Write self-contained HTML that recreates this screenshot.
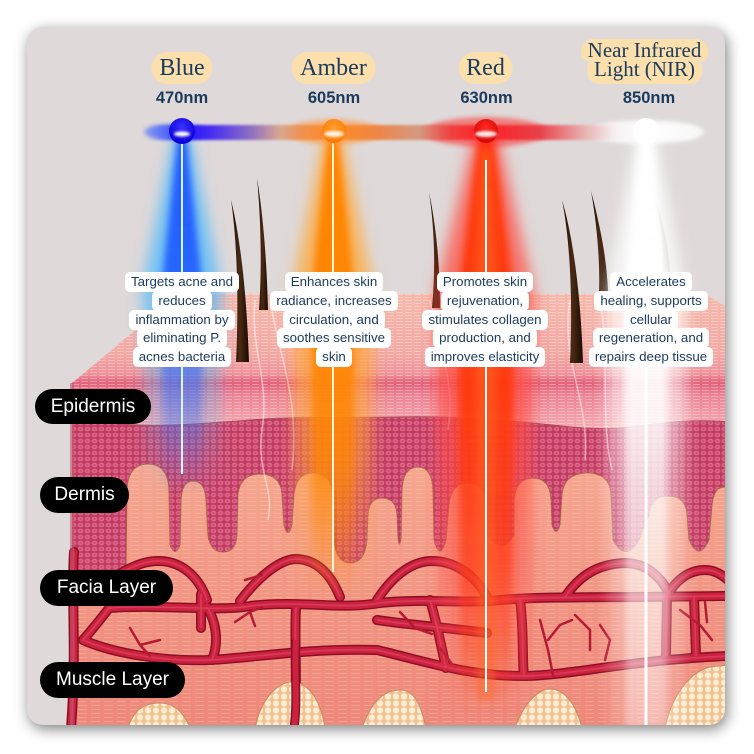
<!DOCTYPE html>
<html><head><meta charset="utf-8">
<style>
html,body{margin:0;padding:0;background:#fff;}
body{width:754px;height:754px;position:relative;overflow:hidden;font-family:"Liberation Sans",Arial,sans-serif;}
#card{position:absolute;left:27px;top:27px;width:698px;height:698px;border-radius:16px;background:#dfd9d9;box-shadow:2px 4px 14px rgba(0,0,0,.5);overflow:hidden;}
#card svg{position:absolute;left:0;top:0;}
.pill{position:absolute;transform:translateX(-50%);font-family:"Liberation Serif",serif;color:#1b3a5c;text-align:center;white-space:nowrap;}
.pill span{background:#fbe0ad;display:inline-block;}
.pill span.b{display:block;width:fit-content;margin:0 auto;}
.wl{position:absolute;transform:translateX(-50%);font-weight:bold;font-size:16.5px;line-height:20px;color:#1b3a5c;white-space:nowrap;top:88px;}
.desc{position:absolute;top:272px;width:200px;transform:translateX(-50%);text-align:center;font-size:13.3px;color:#1b3a5c;}
.desc div{height:18.75px;white-space:nowrap;}
.desc span{display:inline-block;background:#fff;height:20px;line-height:20px;padding:0 6px;border-radius:5px;}
.lay{position:absolute;background:#000;color:#fff;font-size:19px;border-radius:18px;text-align:center;white-space:nowrap;}
</style></head>
<body>
<div id="card">
<svg width="698" height="698" viewBox="27 27 698 698" xmlns="http://www.w3.org/2000/svg">
<defs>
 <linearGradient id="skinTop" x1="0" y1="294" x2="0" y2="428" gradientUnits="userSpaceOnUse">
  <stop offset="0" stop-color="#f6b9ab"/>
  <stop offset=".45" stop-color="#f3a8a4"/>
  <stop offset=".6" stop-color="#ee9098"/>
  <stop offset=".66" stop-color="#e25f78"/>
  <stop offset=".75" stop-color="#ec8294"/>
  <stop offset="1" stop-color="#f5aab0"/>
 </linearGradient>
 <linearGradient id="lowerd" x1="0" y1="460" x2="0" y2="725" gradientUnits="userSpaceOnUse">
  <stop offset="0" stop-color="#f6a890"/><stop offset=".5" stop-color="#f29684"/><stop offset="1" stop-color="#ee887a"/>
 </linearGradient>
 <pattern id="hl" width="9" height="3" patternUnits="userSpaceOnUse"><rect x="0" y="0" width="7" height="1" fill="#fff" opacity=".3"/></pattern>
 <pattern id="hl2" width="13" height="4" patternUnits="userSpaceOnUse"><rect x="0" y="1" width="9" height="1" fill="#ffd8c8" opacity=".28"/></pattern>
 <pattern id="cells" width="7" height="6" patternUnits="userSpaceOnUse"><rect width="7" height="6" fill="#bf3c60"/><rect x=".7" y=".7" width="5.6" height="4.6" rx="2.2" fill="#dc6488"/><circle cx="3.5" cy="3" r="1" fill="#c84a70"/></pattern>
 <pattern id="fat" width="8" height="7" patternUnits="userSpaceOnUse"><rect width="8" height="7" fill="#efc092"/><circle cx="4" cy="3.5" r="3.1" fill="#fdecd0"/></pattern>
 <linearGradient id="hair" x1="0" x2="1"><stop offset="0" stop-color="#1a0c04"/><stop offset=".5" stop-color="#4a2a14"/><stop offset="1" stop-color="#1a0a02"/></linearGradient>

 <filter id="b8" x="-40%" y="-5%" width="180%" height="110%"><feGaussianBlur stdDeviation="7"/></filter>
 <filter id="b4" x="-40%" y="-5%" width="180%" height="110%"><feGaussianBlur stdDeviation="3.5"/></filter>
 <filter id="b2" x="-60%" y="-60%" width="220%" height="220%"><feGaussianBlur stdDeviation="2"/></filter>
 <filter id="b1" x="-10%" y="-60%" width="120%" height="220%"><feGaussianBlur stdDeviation="1.3"/></filter>

 <!-- vertical fade gradients for beams -->
 <linearGradient id="vBo" gradientUnits="userSpaceOnUse" x1="0" y1="136" x2="0" y2="492"><stop offset="0" stop-color="#45b6ff" stop-opacity=".75"/><stop offset=".42" stop-color="#45b6ff" stop-opacity=".7"/><stop offset=".7" stop-color="#45b6ff" stop-opacity=".35"/><stop offset="1" stop-color="#45b6ff" stop-opacity="0"/></linearGradient>
 <linearGradient id="vBc" gradientUnits="userSpaceOnUse" x1="0" y1="136" x2="0" y2="492"><stop offset="0" stop-color="#1e55ff" stop-opacity=".95"/><stop offset=".42" stop-color="#1e5cff" stop-opacity=".9"/><stop offset=".7" stop-color="#2a60ff" stop-opacity=".45"/><stop offset="1" stop-color="#2a60ff" stop-opacity="0"/></linearGradient>
 <linearGradient id="vAo" gradientUnits="userSpaceOnUse" x1="0" y1="136" x2="0" y2="595"><stop offset="0" stop-color="#ffa83a" stop-opacity=".8"/><stop offset=".4" stop-color="#ffa83a" stop-opacity=".75"/><stop offset=".7" stop-color="#ffa030" stop-opacity=".55"/><stop offset="1" stop-color="#ffa030" stop-opacity="0"/></linearGradient>
 <linearGradient id="vAc" gradientUnits="userSpaceOnUse" x1="0" y1="136" x2="0" y2="595"><stop offset="0" stop-color="#ff8400"/><stop offset=".4" stop-color="#ff8400" stop-opacity=".95"/><stop offset=".7" stop-color="#ff8400" stop-opacity=".75"/><stop offset="1" stop-color="#ff8400" stop-opacity="0"/></linearGradient>
 <linearGradient id="vRo" gradientUnits="userSpaceOnUse" x1="0" y1="136" x2="0" y2="715"><stop offset="0" stop-color="#ff4a40" stop-opacity=".75"/><stop offset=".45" stop-color="#ff4a40" stop-opacity=".7"/><stop offset=".75" stop-color="#ff4a40" stop-opacity=".45"/><stop offset="1" stop-color="#ff4a40" stop-opacity="0"/></linearGradient>
 <linearGradient id="vRc" gradientUnits="userSpaceOnUse" x1="0" y1="136" x2="0" y2="715"><stop offset="0" stop-color="#ff3a10"/><stop offset=".45" stop-color="#ff3a10" stop-opacity=".95"/><stop offset=".75" stop-color="#ff3a10" stop-opacity=".65"/><stop offset="1" stop-color="#ff3a10" stop-opacity="0"/></linearGradient>
 <linearGradient id="vNo" gradientUnits="userSpaceOnUse" x1="0" y1="136" x2="0" y2="730"><stop offset="0" stop-color="#fff" stop-opacity=".75"/><stop offset=".3" stop-color="#fff" stop-opacity=".7"/><stop offset=".6" stop-color="#fff" stop-opacity=".4"/><stop offset="1" stop-color="#fff" stop-opacity=".15"/></linearGradient>
 <linearGradient id="vNc" gradientUnits="userSpaceOnUse" x1="0" y1="136" x2="0" y2="730"><stop offset="0" stop-color="#fff"/><stop offset=".3" stop-color="#fff" stop-opacity=".95"/><stop offset=".6" stop-color="#fff" stop-opacity=".6"/><stop offset="1" stop-color="#fff" stop-opacity=".3"/></linearGradient>

 <linearGradient id="bar" x1="147" y1="0" x2="700" y2="0" gradientUnits="userSpaceOnUse">
  <stop offset="0" stop-color="#3040ff" stop-opacity="0"/>
  <stop offset=".04" stop-color="#3040ff" stop-opacity=".6"/>
  <stop offset=".063" stop-color="#1a10ff"/>
  <stop offset=".12" stop-color="#4a30f0"/>
  <stop offset=".19" stop-color="#9070c0"/>
  <stop offset=".24" stop-color="#d8a890"/>
  <stop offset=".28" stop-color="#f09050"/>
  <stop offset=".337" stop-color="#ff8a20"/>
  <stop offset=".42" stop-color="#ec8648"/>
  <stop offset=".49" stop-color="#d49a80"/>
  <stop offset=".55" stop-color="#f04040"/>
  <stop offset=".611" stop-color="#ff2020"/>
  <stop offset=".71" stop-color="#e8404a"/>
  <stop offset=".79" stop-color="#e8b0b0"/>
  <stop offset=".85" stop-color="#f6f2f2"/>
  <stop offset=".9" stop-color="#ffffff"/>
  <stop offset="1" stop-color="#ffffff" stop-opacity="0"/>
 </linearGradient>
 <radialGradient id="oB" cx=".5" cy=".35" r=".6"><stop offset="0" stop-color="#3a30ff"/><stop offset="1" stop-color="#0c00d8"/></radialGradient>
 <radialGradient id="oA" cx=".5" cy=".35" r=".6"><stop offset="0" stop-color="#ffa030"/><stop offset="1" stop-color="#ff7a00"/></radialGradient>
 <radialGradient id="oR" cx=".5" cy=".35" r=".6"><stop offset="0" stop-color="#ff2a20"/><stop offset="1" stop-color="#d80808"/></radialGradient>

 <g id="ves">
  <path d="M90 600 C110 575,140 560,160 561 C185 562,200 580,207 600"/>
  <path d="M201 594 L201 628"/>
  <path d="M110 608 C160 604,220 612,250 606 C300 600,340 610,380 603 C420 598,470 604,500 600 C540 596,600 598,726 596"/>
  <path d="M240 601 C260 575,280 560,295 559 C315 559,330 572,340 597"/>
  <path d="M377 600 C395 572,415 561,432 561 C455 561,475 575,487 597"/>
  <path d="M565 597 C580 575,598 564,625 563 C645 563,660 575,670 595"/>
  <path d="M667 595 C678 578,690 570,705 570 C715 570,722 575,728 580"/>
  <path d="M83 640 C110 652,160 662,210 660 C260 657,310 648,377 650 C420 660,470 677,527 676 C580 674,630 660,728 656"/>
  <path d="M110 607 C100 620,90 632,83 640"/>
  <path d="M296 608 C294 640,298 680,294 728"/>
  <path d="M520 600 C524 630,522 660,524 676"/>
  <path d="M667 595 L666 656"/>
  <path d="M694 597 L696 656"/>
  <path d="M377 620 C410 625,450 628,487 633"/>
  <path d="M74 552 C71 600,77 650,71 728"/>
  <path d="M207 607 C215 620,220 640,212 660"/>
  <path d="M430 600 C436 620,440 640,446 668"/>
 </g>
 <g id="vthin">
  <path d="M130 628 L140 645 L150 656 M140 645 L160 640"/>
  <path d="M235 622 L250 612 L262 607 M250 612 L255 626"/>
  <path d="M540 620 L548 650 L553 675 M548 640 L560 625 L572 620 M600 625 L610 640 L605 660"/>
  <path d="M400 612 L415 628 L432 634 M440 648 L452 664"/>
  <path d="M680 610 L700 625 L712 640 M705 602 L707 622"/>
  <path d="M245 580 L262 575 M575 615 L590 630 L590 650"/>
 </g>
</defs>

<!-- dermis cells -->
<rect x="72" y="405" width="660" height="180" fill="url(#cells)"/>
<!-- lower dermis with papillae -->
<path d="M72 575 L126 575 L127 490 Q128 464 148 464 Q168 464 169 490 L170 545 Q175 558 180 545 L181 500 Q182 481 193 481 Q205 481 206 500 L208 535 Q210 552 223 552 Q236 552 237 535 L238 495 Q240 474 260 474 Q281 474 282 495 L284 525 Q288 540 292 525 L294 495 Q296 473 313 473 Q331 473 333 495 L334 540 Q336 563 350 563 Q365 563 367 540 L368 515 Q369 498 382 498 Q396 498 397 515 L398 538 Q399.5 550 401 538 L402 490 Q403 467 418 467 Q432 467 433 490 L434 540 Q440 562 446 540 L449 505 Q451 483 468 483 Q485 483 487 505 L488 535 Q501 556 514 535 L514 500 Q516 478 533 478 Q550 478 551 500 L552 525 Q556 538 560 525 L562 495 Q564 473 587 473 Q610 473 611 495 L613 540 Q626 563 639 540 L649 515 Q651 496 668 496 Q686 496 687 515 L689 540 Q699 562 709 540 L712 505 Q714 487 724 487 L730 487 L730 760 L72 760 Z" fill="url(#lowerd)" stroke="#a8624a" stroke-width=".9"/>
<path d="M72 575 L126 575 L127 490 Q128 464 148 464 Q168 464 169 490 L170 545 Q175 558 180 545 L181 500 Q182 481 193 481 Q205 481 206 500 L208 535 Q210 552 223 552 Q236 552 237 535 L238 495 Q240 474 260 474 Q281 474 282 495 L284 525 Q288 540 292 525 L294 495 Q296 473 313 473 Q331 473 333 495 L334 540 Q336 563 350 563 Q365 563 367 540 L368 515 Q369 498 382 498 Q396 498 397 515 L398 538 Q399.5 550 401 538 L402 490 Q403 467 418 467 Q432 467 433 490 L434 540 Q440 562 446 540 L449 505 Q451 483 468 483 Q485 483 487 505 L488 535 Q501 556 514 535 L514 500 Q516 478 533 478 Q550 478 551 500 L552 525 Q556 538 560 525 L562 495 Q564 473 587 473 Q610 473 611 495 L613 540 Q626 563 639 540 L649 515 Q651 496 668 496 Q686 496 687 515 L689 540 Q699 562 709 540 L712 505 Q714 487 724 487 L730 487 L730 760 L72 760 Z" fill="url(#hl2)"/>

<!-- vessels -->
<use href="#ves" fill="none" stroke="#8a0e24" stroke-width="10" stroke-linecap="round"/>
<use href="#ves" fill="none" stroke="#cc2240" stroke-width="7" stroke-linecap="round"/>
<use href="#ves" fill="none" stroke="#e8607a" stroke-width="1.5" opacity=".45"/>
<use href="#vthin" fill="none" stroke="#b51a34" stroke-width="2.5" stroke-linecap="round"/>

<!-- fat -->
<path d="M128 728 C135 705,150 703,160 703 C172 703,183 710,190 728 Z" fill="url(#fat)" stroke="#c88a60" stroke-width="1"/>
<path d="M255 728 C262 695,280 682,292 682 C305 682,320 695,325 728 Z" fill="url(#fat)" stroke="#c88a60" stroke-width="1"/>
<path d="M362 728 C372 700,385 690,400 690 C412 690,420 700,426 728 Z" fill="url(#fat)" stroke="#c88a60" stroke-width="1"/>
<path d="M515 728 C525 700,540 689,550 689 C562 689,575 700,582 728 Z" fill="url(#fat)" stroke="#c88a60" stroke-width="1"/>
<path d="M665 728 C672 695,690 672,710 667 L728 665 L728 728 Z" fill="url(#fat)" stroke="#c88a60" stroke-width="1"/>
<path d="M296 640 C294 670,298 700,294 728" fill="none" stroke="#8a0e24" stroke-width="9"/>
<path d="M296 640 C294 670,298 700,294 728" fill="none" stroke="#cc2240" stroke-width="6"/>

<!-- top face (solid) + epidermis front -->
<path d="M72 384 L179 294 L705 294 L730 309 L730 384 Z" fill="#f4afa7"/>
<path d="M72 383 L179 294 L705 294 L730 309 L730 422 C690 418,660 424,620 428 C580 430,560 425,520 422 C480 419,440 416,400 417 C340 418,300 416,250 420 C200 424,150 428,110 423 C95 421,80 421,72 422 Z" fill="url(#skinTop)"/>
<path d="M72 383 L179 294 L705 294 L730 309 L730 422 C690 418,660 424,620 428 C580 430,560 425,520 422 C480 419,440 416,400 417 C340 418,300 416,250 420 C200 424,150 428,110 423 C95 421,80 421,72 422 Z" fill="url(#hl)"/>
<path d="M72 383 L730 383" stroke="#e06a80" stroke-width="1.5" opacity=".6"/>
<path d="M72 422 C80 421,95 421,110 423 C150 428,200 424,250 420 C300 416,340 418,400 417 C440 416,480 419,520 422 C560 425,580 430,620 428 C660 424,690 418,730 422" fill="none" stroke="#a84a5a" stroke-width="1"/>
<rect x="70" y="383" width="4" height="345" fill="#c0506a" opacity=".6"/>

<!-- smoke strands -->
<g fill="none" stroke="#fff" stroke-width="1.6" opacity=".45">
 <path d="M255 300 C250 350,270 380,262 430 C256 470,275 490,268 520"/>
 <path d="M270 300 C280 360,300 400,292 470"/>
 <path d="M570 300 C560 360,590 400,585 460"/>
 <path d="M600 300 C610 360,600 420,612 470"/>
 <path d="M430 300 C440 350,455 380,448 430"/>
</g>

<!-- hairs -->
<path d="M231 200 C237 240,239 300,236 362 L249 362 C247 300,241 240,231 200 Z" fill="url(#hair)"/>
<path d="M257 178 C261 220,262 270,259 310 L268 310 C267 270,264 220,257 178 Z" fill="url(#hair)"/>
<path d="M429 192 C434 225,436 265,432 308 L440 308 C440 265,436 225,429 192 Z" fill="url(#hair)"/>
<path d="M562 200 C570 240,573 300,570 363 L583 363 C581 300,574 240,562 200 Z" fill="url(#hair)"/>
<path d="M591 191 C597 225,600 260,599 292 L608 292 C607 260,600 225,591 191 Z" fill="url(#hair)"/>
<path d="M655 198 C661 225,664 250,662 272 L670 272 C669 250,664 225,655 198 Z" fill="#8a7a70" opacity=".6"/>

<!-- beams (no masks) -->
<polygon filter="url(#b8)" points="174,136 190,136 222,290 218,492 146,492 142,290" fill="url(#vBo)"/>
<polygon filter="url(#b4)" points="178,136 186,136 203,290 201,492 163,492 161,290" fill="url(#vBc)"/>
<line x1="182" y1="136" x2="182" y2="476" stroke="#40c8ff" stroke-width="5" opacity=".7" filter="url(#b2)"/>
<line x1="182" y1="136" x2="182" y2="474" stroke="#d8f6ff" stroke-width="2"/>

<polygon filter="url(#b8)" points="324,136 342,136 374,290 370,595 296,595 292,290" fill="url(#vAo)"/>
<polygon filter="url(#b4)" points="328,136 338,136 355,290 353,595 313,595 311,290" fill="url(#vAc)"/>
<line x1="333" y1="136" x2="333" y2="576" stroke="#ffd040" stroke-width="4" filter="url(#b2)"/>
<line x1="333" y1="136" x2="333" y2="572" stroke="#fff6d0" stroke-width="2"/>

<polygon filter="url(#b8)" points="474,136 498,136 534,290 530,715 440,715 436,290" fill="url(#vRo)"/>
<polygon filter="url(#b4)" points="479,136 493,136 514,290 512,715 460,715 458,290" fill="url(#vRc)"/>
<polygon filter="url(#b4)" points="482,150 490,150 497,290 495,700 477,700 475,290" fill="#ff6a28" opacity=".45"/>
<line x1="486" y1="160" x2="486" y2="694" stroke="#ff9a40" stroke-width="4" filter="url(#b2)"/>
<line x1="486" y1="160" x2="486" y2="692" stroke="#fff" stroke-width="2"/>

<polygon filter="url(#b8)" points="636,136 656,136 686,290 682,730 610,730 606,290" fill="url(#vNo)"/>
<polygon filter="url(#b4)" points="640,136 652,136 668,290 666,730 626,730 624,290" fill="url(#vNc)"/>
<line x1="646" y1="136" x2="646" y2="730" stroke="#fff" stroke-width="6" filter="url(#b2)"/>
<line x1="646" y1="136" x2="646" y2="730" stroke="#fff" stroke-width="3"/>

<!-- glows -->
<ellipse cx="176" cy="132" rx="32" ry="8" fill="#3060ff" opacity=".55" filter="url(#b2)"/>
<ellipse cx="334" cy="132" rx="48" ry="13" fill="#ff9a40" opacity=".55" filter="url(#b2)"/>
<ellipse cx="486" cy="132" rx="62" ry="15" fill="#ff2828" opacity=".5" filter="url(#b2)"/>
<ellipse cx="646" cy="132" rx="58" ry="12" fill="#ffffff" opacity=".8" filter="url(#b2)"/>
<!-- bar -->
<rect x="147" y="125" width="553" height="15" fill="url(#bar)" filter="url(#b1)"/>
<!-- orbs -->
<circle cx="182" cy="131" r="13" fill="url(#oB)"/>
<circle cx="334" cy="131" r="12" fill="url(#oA)"/>
<circle cx="486" cy="131" r="12" fill="url(#oR)"/>
<circle cx="646" cy="131" r="13" fill="#fff"/>
<ellipse cx="182" cy="134" rx="8" ry="2.5" fill="#fff" filter="url(#b1)"/>
<ellipse cx="334" cy="134" rx="10" ry="3" fill="#fff" opacity=".9" filter="url(#b1)"/>
<ellipse cx="486" cy="134" rx="11" ry="3" fill="#fff" opacity=".9" filter="url(#b1)"/>
</svg>
</div>

<!-- titles -->
<div class="pill" style="left:182px;top:52px;font-size:24px;line-height:0;"><span style="height:32px;line-height:32px;padding:0 8px;border-radius:16px;">Blue</span></div>
<div class="pill" style="left:333.5px;top:52px;font-size:24px;line-height:0;"><span style="height:32px;line-height:32px;padding:0 9px;border-radius:16px;">Amber</span></div>
<div class="pill" style="left:485.5px;top:52px;font-size:24px;line-height:0;"><span style="height:32px;line-height:32px;padding:0 8px;border-radius:16px;">Red</span></div>
<div class="pill" style="left:644.5px;top:39px;font-size:21px;line-height:0;">
 <span class="b" style="height:22px;line-height:23.8px;padding:0 7px;border-radius:12px 12px 6px 6px;">Near Infrared</span>
 <span class="b" style="height:23px;line-height:17.8px;padding:0 7px;border-radius:6px 6px 12px 12px;">Light (NIR)</span>
</div>

<div class="wl" style="left:182px;">470nm</div>
<div class="wl" style="left:334px;">605nm</div>
<div class="wl" style="left:486.5px;">630nm</div>
<div class="wl" style="left:649px;">850nm</div>

<div class="desc" style="left:182px;">
 <div><span>Targets acne and</span></div>
 <div><span>reduces</span></div>
 <div><span>inflammation by</span></div>
 <div><span>eliminating P.</span></div>
 <div><span>acnes bacteria</span></div>
</div>
<div class="desc" style="left:334px;">
 <div><span>Enhances skin</span></div>
 <div><span>radiance, increases</span></div>
 <div><span>circulation, and</span></div>
 <div><span>soothes sensitive</span></div>
 <div><span>skin</span></div>
</div>
<div class="desc" style="left:485px;">
 <div><span>Promotes skin</span></div>
 <div><span>rejuvenation,</span></div>
 <div><span>stimulates collagen</span></div>
 <div><span>production, and</span></div>
 <div><span>improves elasticity</span></div>
</div>
<div class="desc" style="left:651px;">
 <div><span>Accelerates</span></div>
 <div><span>healing, supports</span></div>
 <div><span>cellular</span></div>
 <div><span>regeneration, and</span></div>
 <div><span>repairs deep tissue</span></div>
</div>

<div class="lay" style="left:35px;top:389px;width:116px;height:35px;line-height:35px;">Epidermis</div>
<div class="lay" style="left:40px;top:477px;width:89px;height:36px;line-height:36px;">Dermis</div>
<div class="lay" style="left:40px;top:570px;width:133px;height:36px;line-height:36px;">Facia Layer</div>
<div class="lay" style="left:40px;top:662px;width:145px;height:36px;line-height:36px;">Muscle Layer</div>
</body></html>
